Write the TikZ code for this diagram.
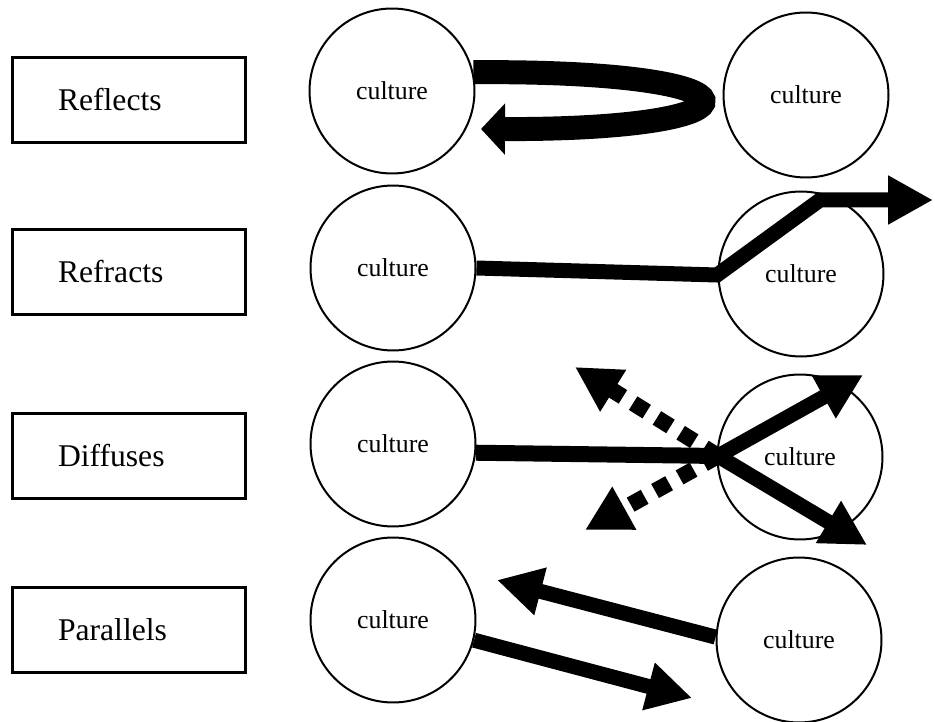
\documentclass[tikz,border=0pt]{standalone}
\usepackage{fontspec}
\setmainfont{Liberation Serif}
\usepackage{tikz}
\usetikzlibrary{arrows.meta}

\begin{document}
\begin{tikzpicture}[x=0.02cm,y=-0.02cm,
	cult/.style={draw,circle,line width=0.04cm,minimum size=3.3cm,inner sep=0pt,font=\fontsize{14.7}{16}\selectfont},
	kind/.style={draw,rectangle,line width=0.06cm,minimum height=1.72cm,text width=2.84cm,inner xsep=0.92cm,align=left,font=\fontsize{18}{20}\selectfont},
	beam/.style={line width=0.3cm,miter limit=20,-{Triangle[length=0.9cm,width=0.92cm]}},
	scatter/.style={beam,dash pattern=on 0.32cm off 0.24cm,line width=0.32cm}]
	\useasboundingbox (0,0) rectangle (935,722);
	\node[kind] (reflects) at (129,100) {Reflects};
	\node[kind] (refracts) at (129,272) {Refracts};
	\node[kind] (diffuses) at (129,456) {Diffuses};
	\node[kind] (parallels) at (129,630) {Parallels};
	\node[cult] (c1l) at (392,91) {culture};
	\node[cult] (c1r) at (806,95) {culture};
	\node[cult] (c2l) at (393,268) {culture};
	\node[cult] (c2r) at (801,274) {culture};
	\node[cult] (c3l) at (393,444) {culture};
	\node[cult] (c3r) at (800,457) {culture};
	\node[cult] (c4l) at (393,620) {culture};
	\node[cult] (c4r) at (799,640) {culture};
	\coordinate (back1) at (481,129);
	\draw[line width=0.48cm,-{Triangle[length=0.48cm,width=1cm]}] (c1l.13) .. controls (775,70) and (775,130) .. (back1);
	\coordinate (bend2) at (717,275);
	\coordinate (up2) at (820,200);
	\coordinate (out2) at (933,200);
	\draw[beam] (c2l.east) -- (bend2) -- (up2) -- (out2);
	\coordinate (hit3) at (718,456);
	\coordinate (ur3) at (863,375);
	\coordinate (lr3) at (867,545);
	\coordinate (ul3) at (575,367);
	\coordinate (ll3) at (585,530);
	\draw[line width=0.32cm] (c3l.-6) -- (hit3);
	\draw[beam] (hit3) -- (ur3);
	\draw[beam] (hit3) -- (lr3);
	\draw[scatter] (hit3) -- (ul3);
	\draw[scatter] (hit3) -- (ll3);
	\coordinate (to4l) at (497,580);
	\coordinate (to4r) at (692,698);
	\draw[beam] (c4r.178) -- (to4l);
	\draw[beam] (c4l.-14) -- (to4r);
\end{tikzpicture}
\end{document}
